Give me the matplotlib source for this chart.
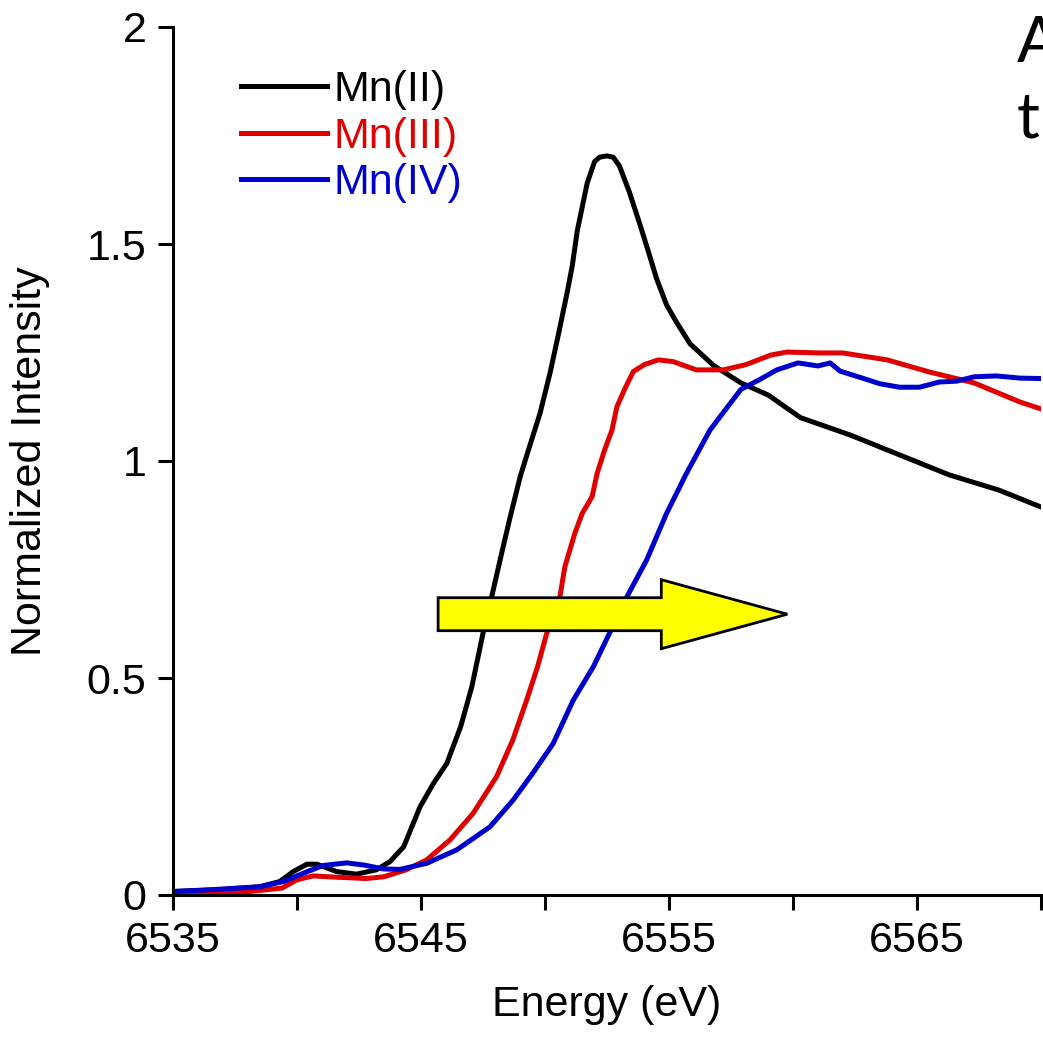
"""
Mn K-edge XANES of Mn(II), Mn(III), Mn(IV)
"""
import matplotlib
matplotlib.use('Agg')
from matplotlib import pyplot as plt
from matplotlib.patches import FancyArrow

plt.rcParams['font.family'] = ['Liberation Sans', 'DejaVu Sans']

## Spectra (energy in eV, normalized intensity)
e_mn2 = [6535.0, 6536.8, 6538.5, 6539.3, 6539.85, 6540.4, 6540.8, 6541.6, 6542.4,
         6543.2, 6543.75, 6544.3, 6544.96, 6545.5, 6546.04, 6546.6, 6547.05, 6547.5,
         6547.85, 6548.25, 6548.6, 6549.0, 6549.33, 6549.8, 6550.2, 6550.55, 6550.9,
         6551.1, 6551.3, 6551.7, 6552.0, 6552.2, 6552.5, 6552.75, 6553.0, 6553.4,
         6553.8, 6554.15, 6554.5, 6554.9, 6555.3, 6555.85, 6556.8, 6557.9, 6559.0,
         6560.3, 6562.3, 6564.3, 6566.3, 6568.3, 6570.0]
i_mn2 = [0.008, 0.012, 0.019, 0.031, 0.054, 0.071, 0.071, 0.054, 0.048,
         0.058, 0.077, 0.111, 0.203, 0.257, 0.303, 0.388, 0.48, 0.603,
         0.687, 0.787, 0.872, 0.964, 1.025, 1.11, 1.202, 1.294, 1.39,
         1.45, 1.53, 1.64, 1.69, 1.70, 1.703, 1.70, 1.68, 1.62,
         1.55, 1.486, 1.42, 1.36, 1.32, 1.27, 1.22, 1.18, 1.152,
         1.10, 1.06, 1.014, 0.968, 0.933, 0.894]

e_mn3 = [6535.0, 6538.1, 6539.4, 6540.0, 6540.65, 6541.6, 6542.8, 6543.5, 6544.4,
         6545.23, 6546.17, 6547.1, 6548.05, 6548.7, 6549.26, 6549.7, 6550.07, 6550.6,
         6550.8, 6551.2, 6551.5, 6551.9, 6552.1, 6552.4, 6552.7, 6552.9, 6553.2,
         6553.56, 6554.0, 6554.57, 6555.17, 6556.1, 6557.2, 6558.1, 6559.1, 6559.75,
         6561.1, 6562.0, 6563.8, 6565.5, 6567.3, 6569.15, 6570.0]
i_mn3 = [0.005, 0.008, 0.016, 0.035, 0.044, 0.041, 0.038, 0.042, 0.058,
         0.081, 0.127, 0.188, 0.273, 0.357, 0.449, 0.526, 0.603, 0.687,
         0.756, 0.833, 0.879, 0.918, 0.971, 1.025, 1.071, 1.125, 1.164,
         1.206, 1.222, 1.233, 1.229, 1.21, 1.21, 1.222, 1.244, 1.251,
         1.249, 1.249, 1.233, 1.205, 1.18, 1.136, 1.12]

e_mn4 = [6535.0, 6536.8, 6538.5, 6539.45, 6540.25, 6541.05, 6542.0, 6542.7, 6543.5,
         6544.15, 6545.23, 6546.44, 6547.78, 6548.72, 6549.5, 6550.33, 6551.14, 6551.95,
         6552.6, 6553.3, 6554.1, 6554.9, 6555.7, 6556.65, 6557.06, 6557.9, 6558.7,
         6559.35, 6560.2, 6561.0, 6561.5, 6561.9, 6562.8, 6563.5, 6564.3, 6565.1,
         6565.9, 6566.6, 6567.3, 6568.2, 6569.15, 6570.0]
i_mn4 = [0.008, 0.013, 0.019, 0.031, 0.05, 0.068, 0.074, 0.069, 0.060,
         0.059, 0.073, 0.104, 0.157, 0.219, 0.28, 0.349, 0.449, 0.526,
         0.603, 0.687, 0.772, 0.879, 0.971, 1.071, 1.102, 1.165, 1.189,
         1.21, 1.226, 1.219, 1.226, 1.207, 1.191, 1.178, 1.17, 1.17,
         1.182, 1.184, 1.194, 1.196, 1.191, 1.19]

labels = ['Mn(II)', 'Mn(III)', 'Mn(IV)']
colors = ['black', '#E00000', '#0000CC']

xticks = [6535, 6540, 6545, 6550, 6555, 6560, 6565, 6570]
xticklabels = ['6535', '', '6545', '', '6555', '', '6565', '']
yticks = [0, 0.5, 1, 1.5, 2]
yticklabels = ['0', '0.5', '1', '1.5', '2']

fs = 31

fig = plt.figure(figsize=(10.43, 10.37), dpi=100)
ax = fig.add_axes([173/1043, 1 - 895/1037, 868/1043, 868/1037])

for e, i, lab, c in zip([e_mn2, e_mn3, e_mn4], [i_mn2, i_mn3, i_mn4], labels, colors):
    ax.plot(e, i, color=c, lw=3.6, label=lab, solid_joinstyle='round')

# Yellow shift arrow
arrow = FancyArrow(6545.69, 0.647, 9.0, 0.0, width=0.076, head_width=0.159,
                   head_length=5.08, length_includes_head=False,
                   facecolor='#FFFF00', edgecolor='black', lw=2.0, zorder=5)
ax.add_patch(arrow)

ax.set_xlim(6535, 6570)
ax.set_ylim(0, 2)
ax.set_xticks(xticks)
ax.set_xticklabels(xticklabels)
ax.set_yticks(yticks)
ax.set_yticklabels(yticklabels)
ax.tick_params(direction='out', length=11, width=2.2, labelsize=fs, pad=8)
for side in ['top', 'right']:
    ax.spines[side].set_visible(False)
for side in ['left', 'bottom']:
    ax.spines[side].set_linewidth(2.2)

ax.set_xlabel('Energy (eV)', fontsize=fs)
ax.set_ylabel('Normalized Intensity', fontsize=fs)
ax.xaxis.set_label_coords(0.5, -0.104)
ax.yaxis.set_label_coords(-0.142, 0.5)

leg = ax.legend(loc='upper left', bbox_to_anchor=(0.078, 0.95), frameon=False,
                fontsize=fs, handlelength=2.0, handletextpad=0.15,
                labelspacing=0.15, borderpad=0, borderaxespad=0,
                labelcolor='linecolor')

# Slide text running off the right edge
fig.text(1017/1043, 1 - 62/1037, 'A', fontsize=46, family=['Lato', 'DejaVu Sans'],
         ha='left', va='baseline')
fig.text(1017/1043, 1 - 138/1037, 'th', fontsize=46, family=['Lato', 'DejaVu Sans'],
         ha='left', va='baseline')

fig.savefig('out.png', dpi=100)
